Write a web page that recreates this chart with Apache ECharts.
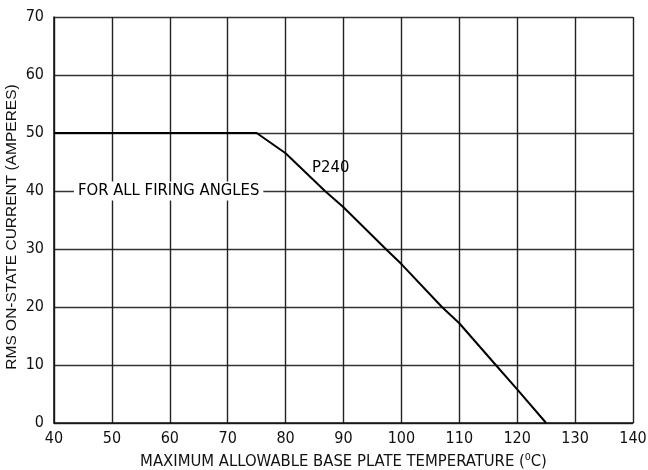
<!DOCTYPE html>
<html>
<head>
<meta charset="utf-8">
<script src="https://cdn.jsdelivr.net/npm/echarts@6/dist/echarts.min.js"></script>
<style>
html,body{margin:0;padding:0;background:#fff;}
#chart{width:648px;height:470px;}
</style>
</head>
<body>
<div id="chart"></div>
<script>
// Data
var tempC = [40, 75, 80, 86.8, 90, 97.3, 100, 107, 110, 116.3, 120, 125];
var rmsCurrent = [50, 50, 46.5, 40, 37.2, 30, 27.4, 20, 17.2, 10, 5.8, 0];
var xTicks = [40, 50, 60, 70, 80, 90, 100, 110, 120, 130, 140];
var yTicks = [0, 10, 20, 30, 40, 50, 60, 70];
var seriesName = 'P240';
var noteText = 'FOR ALL FIRING ANGLES';
var seriesLabelAt = [87.8, 44];
var noteAt = [59.8, 40];
var xTitle = 'MAXIMUM ALLOWABLE BASE PLATE TEMPERATURE (\u2070C)';
var yTitle = 'RMS ON-STATE CURRENT (AMPERES)';

var FONT = '"Liberation Sans Narrow", "DejaVu Sans Condensed", "Liberation Sans", sans-serif';
var FONT_WIDE = '"Liberation Sans", Arial, sans-serif';
var chart = echarts.init(document.getElementById('chart'), null, {renderer: 'canvas'});
var pts = tempC.map(function (t, i) { return [t, rmsCurrent[i]]; });

function annotation(coord, text, bg) {
  return {
    type: 'scatter',
    data: [coord],
    symbol: 'circle',
    symbolSize: 1,
    itemStyle: {color: 'rgba(0,0,0,0)'},
    silent: true,
    z: 5,
    label: {
      show: true, position: 'inside', formatter: text,
      color: '#000', opacity: 1, textBorderWidth: 0,
      fontFamily: FONT, fontSize: 16.5,
      backgroundColor: bg || 'transparent', padding: [1, 4, 1, 4]
    },
    emphasis: {disabled: true}
  };
}

chart.setOption({
  animation: false,
  backgroundColor: '#fff',
  grid: {left: 54, right: 15, top: 17, bottom: 47, containLabel: false, outerBoundsMode: 'none'},
  xAxis: {
    type: 'value', min: xTicks[0], max: xTicks[xTicks.length - 1], interval: 10,
    name: xTitle, nameLocation: 'middle', nameGap: 30, nameMoveOverlap: false,
    nameTextStyle: {color: '#111', fontFamily: FONT, fontSize: 16.5},
    axisLine: {show: true, lineStyle: {color: '#111', width: 1.5}},
    axisTick: {show: false},
    axisLabel: {color: '#111', fontFamily: FONT, fontSize: 16, margin: 8},
    splitLine: {show: true, lineStyle: {color: '#222', width: 1.4}}
  },
  yAxis: {
    type: 'value', min: yTicks[0], max: yTicks[yTicks.length - 1], interval: 10,
    name: yTitle, nameLocation: 'middle', nameGap: 34, nameRotate: 90, nameMoveOverlap: false,
    nameTextStyle: {color: '#111', fontFamily: FONT_WIDE, fontSize: 15.5, padding: [0, 14, 0, 0]},
    axisLine: {show: true, lineStyle: {color: '#111', width: 1.5}},
    axisTick: {show: false},
    axisLabel: {color: '#111', fontFamily: FONT, fontSize: 16, margin: 10},
    splitLine: {show: true, lineStyle: {color: '#333', width: 1.4}}
  },
  series: [{
    name: seriesName,
    type: 'line',
    data: pts,
    symbol: 'none',
    smooth: false,
    lineStyle: {color: '#000', width: 2},
    z: 3
  },
  annotation(seriesLabelAt, seriesName, null),
  annotation(noteAt, noteText, '#fff')]
});
</script>
</body>
</html>
